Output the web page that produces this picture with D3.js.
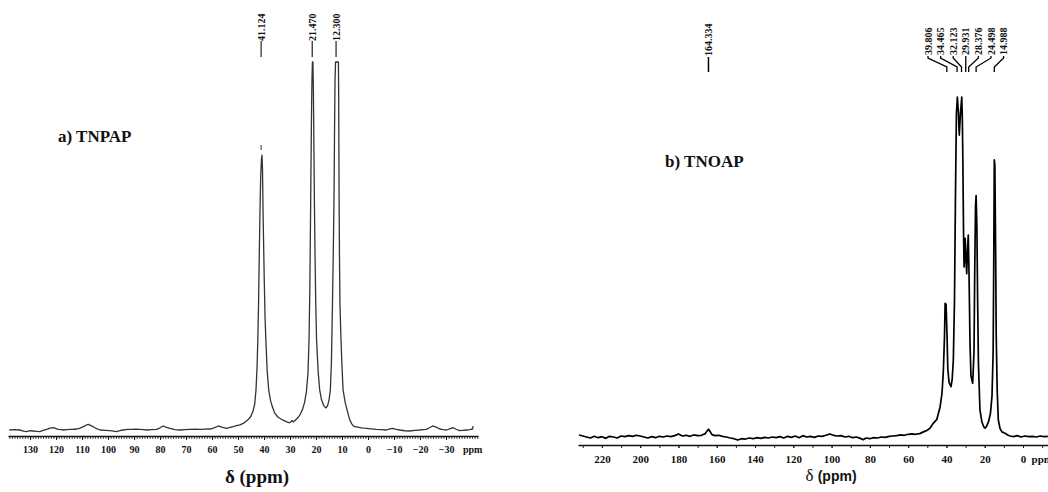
<!DOCTYPE html>
<html>
<head>
<meta charset="utf-8">
<script src="https://cdn.jsdelivr.net/npm/d3@7/dist/d3.min.js"></script>
<style>
body { margin: 0; background: #fff; }
svg { display: block; }
text { font-family: "Liberation Serif", "Times New Roman", serif; font-weight: bold; fill: #111; }
</style>
</head>
<body>
<svg width="1048" height="492"></svg>
<script>
// spectrum a) TNPAP : [ppm, intensity] (intensity 0 = baseline, 100 = clipped top)
var tnpapSpectrum = [
    [138,0.0],[136,0.1],[134,0.0],[132.5,-0.3],[131.3,-0.45],[130,-0.2],[128.8,-0.27],[127.5,-0.35],[126.2,-0.45],[125,-0.1],
    [123.6,0.2],[122.3,0.5],[121,0.63],[120,0.4],[119.1,0.18],[118,0.1],[117.2,0.0],[116,0.1],[114.6,0.18],[113.3,0.2],
    [112.1,0.27],[110.8,0.5],[109.5,0.9],[108.5,1.3],[107.6,1.54],[106.6,1.2],[105.7,0.9],[104.5,0.4],[103.1,0.0],[101.2,-0.1],
    [99.3,-0.18],[98,-0.3],[96.7,-0.45],[95.5,-0.2],[94.2,0.0],[92.5,0.15],[90.9,0.18],[89.3,0.2],[87.7,0.18],[86.5,0.1],
    [85.2,0.0],[83.2,0.1],[81.3,0.18],[80,0.6],[78.8,1.09],[77.5,0.7],[76.2,0.45],[74.3,0.1],[72.4,0.0],[70.5,0.1],
    [68.5,0.18],[66.6,0.2],[64.7,0.18],[62.8,0.22],[60.8,0.27],[59.2,0.6],[57.6,1.09],[56,0.7],[54.4,0.45],[53.1,0.7],
    [51.9,0.9],[50.6,1.2],[49.3,1.4],[48,1.8],[47,2.3],[46,2.9],[45,3.8],[44.3,5],[43.6,7],[43.1,10.9],
    [42.7,17],[42.4,24.5],[42.1,35],[41.9,45],[41.6,58],[41.3,68.8],[41.0,73.5],[40.8,74.7],[40.6,71],[40.4,60],
    [40.2,51.6],[39.9,40],[39.6,30],[39.3,24.5],[38.8,16],[38.2,10.9],[37.5,8],[36.8,6.3],[35.9,4.6],[34.8,3.6],
    [33.5,3.0],[32.5,2.6],[31.5,2.3],[30.6,2.0],[30.1,2.0],[29.6,2.3],[29.2,2.6],[28.8,2.2],[28.2,2.5],[27.5,3.0],
    [26.7,3.6],[26,4.4],[25.2,5.6],[24.4,7.5],[23.7,10.5],[23.1,15.5],[22.7,24.5],[22.4,38],[22.2,51.6],[22.0,67],
    [21.8,82],[21.6,94],[21.4,100],[21.2,100],[21.0,91],[20.8,75],[20.6,60],[20.4,48],[20.1,34],[19.8,24.5],
    [19.2,16],[18.6,10.9],[17.9,8.2],[17.1,6.7],[16.3,6.0],[15.6,6.5],[15.0,8.2],[14.5,10.9],[14.1,18],[13.7,33.4],
    [13.4,47],[13.1,62],[12.9,80],[12.7,95],[12.5,100],[11.4,100],[11.3,92],[11.15,65],[11.0,48],[10.8,34],
    [10.4,24.5],[10.0,17],[9.6,10.9],[8.8,7.5],[7.9,5],[7.0,2.7],[6.2,1.6],[5.5,1.0],[4.0,0.8],[2.5,0.6],
    [1.5,0.5],[0.6,0.45],[-1.3,0.3],[-3.2,0.18],[-5.1,0.1],[-7.1,0.0],[-8.4,0.3],[-9.5,0.45],[-10.9,0.2],[-12.2,0.0],
    [-14.1,-0.2],[-16,-0.27],[-18,-0.1],[-19.9,0.0],[-21.2,0.1],[-22.4,0.18],[-23.6,0.6],[-24.9,1.09],[-26.2,0.8],[-27.6,0.27],
    [-28.8,0.1],[-30.1,0.0],[-31.4,0.3],[-32.6,0.63],[-33.9,0.2],[-35.2,-0.18],[-36.5,-0.1],[-37.8,0.0],[-39.1,0.1],[-40.2,0.27],
    [-40.4,1.09]
];
// spectrum b) TNOAP
var tnoapSpectrum = [
    [232,0.6],[230,0.3],[228,0.0],[226,-0.3],[224,0.2],[222,-0.2],[220,0.1],[218,-0.4],[216,0.2],[214,0.0],
    [212,-0.3],[210,0.3],[208,0.1],[206,0.4],[204,0.2],[202,0.5],[200,0.3],[198,0.0],[196,-0.3],[194,0.1],
    [192,-0.2],[190,0.2],[188,0.0],[186,0.3],[184,0.1],[182,0.4],[180,0.9],[178,0.3],[176,0.5],[174,0.2],
    [172,0.6],[170,0.4],[168,0.5],[166,1.0],[165,1.8],[164.3,2.3],[163.5,1.6],[162.5,0.7],[161,0.4],[159,0.5],
    [157,0.2],[155,0.0],[153,-0.3],[151,-0.5],[149,-0.9],[147,-0.5],[145,-0.6],[143,-0.3],[141,-0.5],[139,-0.2],
    [137,-0.4],[135,-0.1],[133,-0.3],[131,0.0],[129,-0.2],[127,0.1],[125,-0.3],[123,0.2],[121,-0.1],[119,0.3],
    [117,-0.2],[115,0.4],[113,0.0],[111,0.2],[109,-0.1],[107,0.3],[105,0.2],[103,0.5],[101,0.9],[99,0.5],
    [97,0.3],[95,0.4],[93,0.0],[91,0.2],[89,-0.2],[87,0.0],[85,-0.4],[83.5,-0.8],[82,-0.3],[80,-0.5],
    [78,-0.2],[76,-0.3],[74,0.0],[72,-0.1],[70,0.2],[68,0.3],[66,0.4],[64,0.6],[62,0.5],[60,0.8],
    [58,0.9],[56,0.8],[54,1.0],[52,1.5],[50,2.0],[48.6,2.6],[46.8,4.1],[45,5.2],[43.3,8.9],[42.3,13],
    [41.6,19.7],[41.0,30],[40.7,39.3],[40.2,39],[39.7,30],[39.3,20],[38.6,16],[37.6,14.8],[37.0,17],[36.4,22.6],
    [35.8,40],[35.3,70],[34.8,95],[34.3,100],[33.8,96],[33.3,88.8],[32.7,95],[32.0,100],[31.7,94],[31.4,80],
    [31.1,62],[30.8,50],[30.5,53],[30.2,58.4],[29.8,52],[29.4,48],[29.0,55],[28.6,59.4],[28.2,48],[27.7,28],
    [27.2,18],[26.3,15.8],[25.6,25],[25.2,50],[24.8,68],[24.5,71],[24.1,62],[23.7,40],[23.3,22],[22.5,8],
    [21.5,4.5],[20.5,3],[19.8,2.6],[19,3.2],[18,4.5],[17,7],[16.2,12],[15.6,25],[15.3,50],[15.0,81.5],
    [14.7,80],[14.3,55],[14.0,30],[13.5,14],[12.9,5],[12,2.5],[11,1.5],[9.4,1.1],[8,0.6],[6.8,0.3],
    [5,0.1],[3,0.4],[1,0.0],[-1,0.3],[-3,0.1],[-5,0.2],[-7,0.0],[-9,0.3],[-11,0.1],[-13,0.2]
];

var tnpapTickLabels = [130,120,110,100,90,80,70,60,50,40,30,20,10,0,-10,-20,-30];
var tnoapTickLabels = [220,200,180,160,140,120,100,80,60,40,20,0];
var tnpapPeaks = ["41.124","21.470","12.300"];
var tnoapLonePeaks = ["164.334"];
var tnoapClusterPeaks = ["39.806","34.465","32.123","29.931","28.376","24.498","14.988"];

var svg = d3.select("svg");

function Plot_spectrum(panel) {
    var g = svg.append("g");
    var xscale = d3.scaleLinear().domain(panel.ppm).range(panel.xr);
    var yscale = d3.scaleLinear().domain([0, 100]).range(panel.yr);

    // minor ticks
    g.append("g")
        .attr("transform", "translate(0," + panel.axisY + ")")
        .call(d3.axisBottom(xscale).tickValues(d3.range(panel.minor[0], panel.minor[1] + 0.1, panel.minor[2]))
            .tickSize(panel.minorLen).tickSizeOuter(0).tickFormat(""))
        .call(function(a) { a.select(".domain").remove(); })
        .selectAll("line").attr("stroke", "#222").attr("stroke-width", panel.minorW);

    var ax = g.append("g")
        .attr("transform", "translate(0," + panel.axisY + ")")
        .call(d3.axisBottom(xscale).tickValues(panel.labels).tickSize(panel.majorLen).tickSizeOuter(0)
            .tickFormat(d3.format("d")));
    ax.select(".domain").attr("stroke", "#111").attr("stroke-width", 1.6);
    ax.selectAll("line").attr("stroke", "#111").attr("stroke-width", 1);
    ax.selectAll("text")
        .attr("y", panel.labelDy).attr("dy", 0)
        .style("font-family", '"Liberation Serif", serif')
        .style("font-weight", "bold")
        .style("font-size", panel.tickFont + "px")
        .attr("fill", "#111");

    g.append("text")
        .attr("x", xscale(panel.ppmLabelAt))
        .attr("y", panel.axisY + panel.labelDy)
        .style("font-size", panel.tickFont + "px")
        .text("ppm");

    var line = d3.line()
        .x(function(d) { return xscale(d[0]); })
        .y(function(d) { return yscale(d[1]); });
    g.append("path")
        .datum(panel.data)
        .attr("d", line)
        .attr("fill", "none")
        .attr("stroke", panel.color)
        .attr("stroke-width", panel.lineW)
        .attr("stroke-linejoin", "round");

    return xscale;
}

function peak_label(x, yBottom, txt) {
    svg.append("text")
        .attr("transform", "translate(" + x + "," + yBottom + ") rotate(-90)")
        .attr("dy", "0.35em")
        .style("font-size", "10px")
        .text(txt);
}

// ---- a) TNPAP
var xa = Plot_spectrum({
    data: tnpapSpectrum, ppm: [138.5, -42.3], xr: [8, 478], yr: [430, 62],
    axisY: 436, labels: tnpapTickLabels, minor: [-42, 138, 1], minorLen: 3, minorW: 0.8,
    majorLen: 4, labelDy: 17, tickFont: 10, ppmLabelAt: -36.5,
    color: "#333", lineW: 1.3
});
tnpapPeaks.forEach(function(p) {
    var x = xa(+p);
    peak_label(x, 41, p);
    svg.append("line").attr("x1", x).attr("x2", x).attr("y1", 41).attr("y2", 57)
        .attr("stroke", "#222").attr("stroke-width", 1.2);
});
svg.append("line").attr("x1", xa(41.124)).attr("x2", xa(41.124)).attr("y1", 145).attr("y2", 150)
    .attr("stroke", "#333").attr("stroke-width", 1);

svg.append("text").attr("x", 58).attr("y", 142).style("font-size", "17px").text("a) TNPAP");
svg.append("text").attr("x", 257).attr("y", 483).attr("text-anchor", "middle")
    .style("font-size", "19px").text("\u03b4 (ppm)");

// ---- b) TNOAP
var xb = Plot_spectrum({
    data: tnoapSpectrum, ppm: [232.5, -14], xr: [578, 1049.8], yr: [437, 97],
    axisY: 445, labels: tnoapTickLabels, minor: [-10, 230, 10], minorLen: 3, minorW: 1,
    majorLen: 3, labelDy: 17.5, tickFont: 11, ppmLabelAt: -4.5,
    color: "#000", lineW: 1.7
});
tnoapLonePeaks.forEach(function(p) {
    var x = xb(+p);
    peak_label(x, 56, p);
    svg.append("line").attr("x1", x).attr("x2", x).attr("y1", 57).attr("y2", 72)
        .attr("stroke", "#000").attr("stroke-width", 1.5);
});
tnoapClusterPeaks.forEach(function(p, i) {
    var lx = 928 + i * 12.6, px = xb(+p);
    peak_label(lx, 55, p);
    svg.append("path")
        .attr("d", "M" + lx + ",56 L" + lx + ",58 L" + px + ",67 L" + px + ",72")
        .attr("fill", "none").attr("stroke", "#000").attr("stroke-width", 1.3);
});

svg.append("text").attr("x", 665).attr("y", 167).style("font-size", "17px").text("b) TNOAP");
var t = svg.append("text").attr("x", 831).attr("y", 481).attr("text-anchor", "middle");
t.append("tspan").style("font-size", "17px").style("font-weight", "normal").text("\u03b4 ");
t.append("tspan").style("font-family", '"Liberation Sans", Arial, sans-serif').style("font-size", "14px").text("(ppm)");
</script>
</body>
</html>
